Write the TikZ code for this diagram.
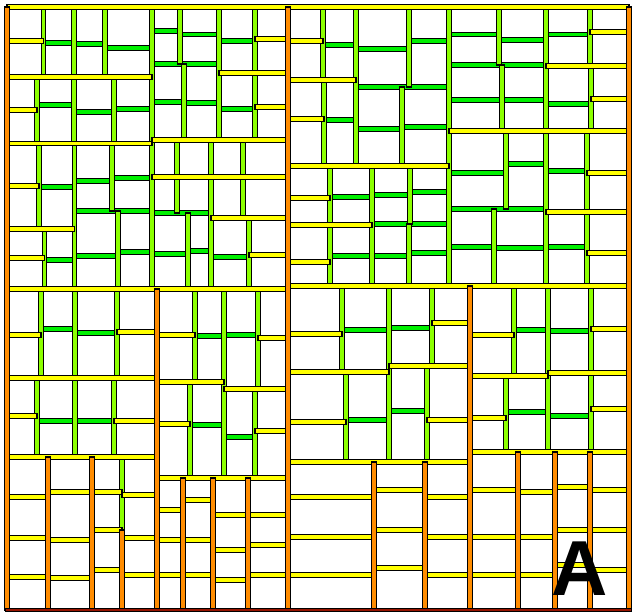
\documentclass[tikz,border=0pt]{standalone}
\usepackage{fontspec}
\setmainfont{Liberation Sans}
\begin{document}
\begin{tikzpicture}[x=1pt,y=-1pt]
\definecolor{yc}{RGB}{255,255,0}
\definecolor{lc}{RGB}{140,255,0}
\definecolor{gc}{RGB}{0,240,0}
\definecolor{oc}{RGB}{255,140,0}
\definecolor{rc}{RGB}{150,20,0}
\tikzset{
  sg/.style={draw=black, line width=1.1pt, fill=gc},
  sl/.style={draw=black, line width=1.1pt, fill=lc},
  sy/.style={draw=black, line width=1.1pt, fill=yc},
  so/.style={draw=black, line width=1.1pt, fill=oc},
}
\useasboundingbox (0,0) rectangle (632,613);
\fill[white] (0,0) rectangle (632,613);
% green horizontal
\foreach \y/\a/\b in {43/44/74, 44/74/105, 48/105/152, 105/37/74, 112/74/114, 109/114/152,
31/152/180, 34.5/180/219, 41/219/255, 64/152/219, 102/152/184, 103/184/219, 109/219/255,
187/39/74.5, 181/74.5/112, 178/112/152, 211/74.5/152, 260/44.7/74.5, 256/74.5/118, 252/118/152,
213/152/211, 254/152/188, 251/188/211, 257/211/249,
45/323/356, 49/356/409, 41/409/449, 87/356/449, 120/324/356, 129/356/402, 127/402/449,
197/330/372, 195/372/410, 192/410/449, 224/372/449, 256/330/409, 253/409/449,
34.5/449/499, 40/499/546, 34.5/546/590, 65/449/546, 100/449/546, 104/546/591,
173/449/506, 164/506/546, 171/546/587, 209/449/546, 247/449/494, 248/494/546, 247/546/587,
329/41/75, 333/75/117, 421/37/114,
336/195/224, 335/224/258, 425/190/224, 437/225/255,
330/342/389, 328/389/432, 420/346/389, 411/389/427,
330/514/548, 331/548/591, 412/506/548, 416/548/591}
  \draw[sg] (\a,\y-2.2) rectangle (\b,\y+2.2);
% lime vertical
\foreach \x/\a/\b in {43.5/7/77, 74/7/77, 105/7/77, 152/7/289, 37/77/143, 74/77/143, 114/77/143,
180/7/64, 219/7/140, 255/7/73, 184/64/140, 255/73/140,
39/143/229, 74.5/143/289, 112/143/211, 118/211/289, 44.7/229/289,
177/140/213, 211/140/289, 243/140/218, 188/213/289, 249/218/289,
323/7/80, 356/7/166, 409/7/87, 324/80/166, 402/87/166, 330/166/286, 372/166/286, 410/166/224, 409/224/286, 449/7/286,
499/7/65, 546/7/131, 590/7/66, 502/65/131, 591/66/131, 506/131/209, 546/131/286, 587/131/286, 494/209/286,
41/289/378, 75/289/457, 117/289/378, 37/378/457, 114/378/457,
195/289/382, 224/289/478, 258/289/389, 190/382/478, 255/389/478,
342/286/372, 389/286/462, 432/286/366, 346/372/462, 427/366/462,
514/286/376, 548/286/452, 591/286/373, 506/376/452, 591/373/452, 122/457/530}
  \draw[sl] (\x-2.2,\a) rectangle (\x+2.2,\b);
% yellow horizontal
\foreach \y/\a/\b in {7/7/629,
77/7/152, 143.5/7/152, 41/7/43.5, 110/7/37, 39/255/288, 73/219/288, 107/255/288, 140/152/288,
186/7/39, 229/7/74.5, 258/7/44.7, 177/152/288, 218/211/288, 255/249/288, 289/7/288,
41/288/323, 80/288/356, 119/288/324, 166/288/449, 198/288/330, 225/288/372, 262/288/330, 286/288/629,
131/449/629, 32/590/629, 66/546/629, 99/591/629, 173/587/629, 212/546/629, 253/587/629,
335/7/41, 332/117/157, 378/7/157, 416/7/37, 421/114/157, 457/7/157,
335/157/195, 338/258/288, 382/157/224, 389/224/288, 424/157/190, 431/255/288, 478/157/288,
334/288/342, 323/432/470, 372/288/389, 366/389/470, 422/288/346, 420/427/470, 462/288/470,
335/470/514, 329/591/629, 376/470/548, 373/548/629, 418/470/506, 409/591/629, 452/470/629,
497/7/48, 538/7/48, 577/7/48, 492/48/92, 540/48/92, 578/48/92, 492/92/122, 530/92/122, 570/92/122, 495/122/157, 538/122/157, 575/122/157,
510/157/183, 540/157/183, 575/157/183, 500/183/213, 540/183/213, 575/183/213, 515/213/248, 550/213/248, 580/213/248, 515/248/288, 545/248/288, 575/248/288,
497/288/374, 537/288/374, 575/288/374, 490/374/425, 530/374/425, 568/374/425, 497/425/470, 537/425/470, 575/425/470,
490/470/518, 537/470/518, 575/470/518, 492/518/555, 537/518/555, 575/518/555, 487/555/590, 530/555/590, 565/555/590, 490/590/629, 530/590/629, 570/590/629}
  \draw[sy] (\a,\y-2.2) rectangle (\b,\y+2.2);
% orange vertical
\foreach \x/\a/\b in {7/7/610, 288/7/610, 629/7/610, 157/289/610, 470/286/610,
48/457/610, 92/457/610, 122/530/610, 183/478/610, 213/478/610, 248/478/610,
374/462/610, 425/462/610, 518/452/610, 555/452/610, 590/452/610}
  \draw[so] (\x-2.2,\a) rectangle (\x+2.2,\b);
% bottom border
\draw[draw=black, line width=0.8pt, fill=rc] (5,608.5) rectangle (631,611.5);
\node[font=\bfseries\fontsize{78}{78}\selectfont, inner sep=0pt] (lblA) at (580,569) {A};
\end{tikzpicture}
\end{document}
